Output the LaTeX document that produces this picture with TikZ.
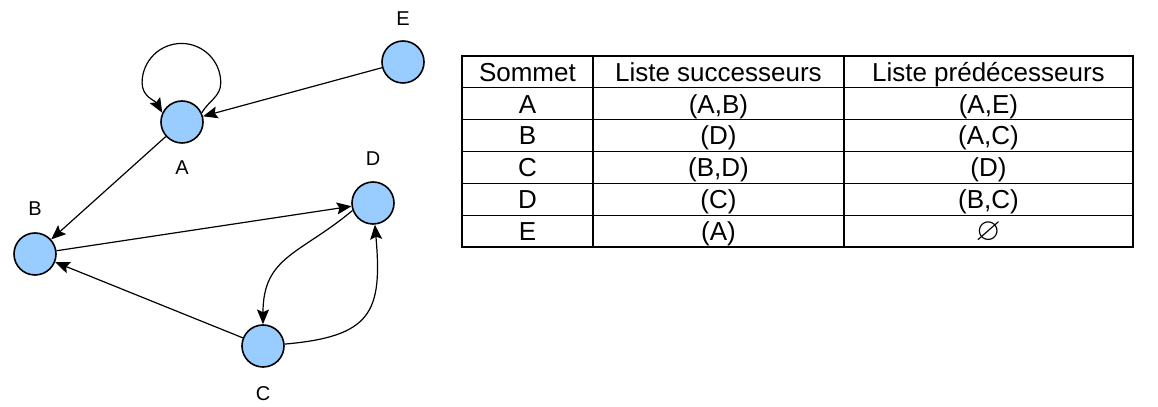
\documentclass[tikz,border=0pt]{standalone}
\usepackage{amssymb}
\usepackage{fontspec}
\setmainfont{Liberation Sans}
\usetikzlibrary{arrows.meta, matrix, positioning}
\definecolor{nodeblue}{RGB}{153,204,255}
\tikzstyle{vertex} = [circle, draw, line width=1.2pt, fill=nodeblue,
  minimum size=31.5pt, inner sep=0pt]
\tikzstyle{line} = [draw, -{Stealth[length=11pt,width=9pt,inset=2pt]}, line width=0.9pt]
\tikzstyle{lbl} = [font=\fontsize{15}{18}\selectfont, inner sep=0pt]
\tikzstyle{cell} = [draw, line width=1pt, font=\fontsize{19.5}{23}\selectfont,
  minimum height=23.9pt, text height=14pt, text depth=0pt, inner sep=0pt]

\begin{document}
\begin{tikzpicture}[x=0.75pt, y=0.75pt]
    \useasboundingbox (0,0) rectangle (1158,407);

    % graph
    \node [vertex] (E) at (403,345) {};
    \node [vertex] (A) at (182,285) {};
    \node [vertex] (D) at (373,204) {};
    \node [vertex] (B) at (35,153) {};
    \node [vertex] (C) at (263,61) {};

    \node [lbl, above=10.5pt of E] (labE) {E};
    \node [lbl, below=12.75pt of A] (labA) {A};
    \node [lbl, above=11.25pt of D] (labD) {D};
    \node [lbl, above=12pt of B] (labB) {B};
    \node [lbl, below=14pt of C] (labC) {C};

    \path [line] (E) -- (A);
    \path [line] (A.25) to [out=60, in=-90] ++(19,30)
      arc [start angle=0, end angle=180, radius=29.5pt]
      to [out=-90, in=120] (A.155);
    \path [line] (A) -- (B);
    \path [line] (B) -- (D);
    \path [line] (C) -- (B);
    \path [line] (D.200) to [out=220, in=90, looseness=1.2] (C);
    \path [line] (C) to [out=5, in=-85, looseness=1.5] (D);

    % table
    \matrix (tab) [matrix of nodes, nodes in empty cells, anchor=north west,
      inner sep=0pt, column sep=-1pt, row sep=-1pt, nodes=cell,
      column 1/.style={nodes={minimum width=98.25pt}},
      column 2/.style={nodes={minimum width=188.25pt}},
      column 3/.style={nodes={minimum width=216.75pt}}] at (461,352) {
      Sommet & Liste successeurs & Liste prédécesseurs \\
      A & (A,B) & (A,E) \\
      B & (D) & (A,C) \\
      C & (B,D) & (D) \\
      D & (C) & (B,C) \\
      E & (A) & \fontsize{24}{26}\selectfont$\varnothing$ \\
    };

\end{tikzpicture}
\end{document}
